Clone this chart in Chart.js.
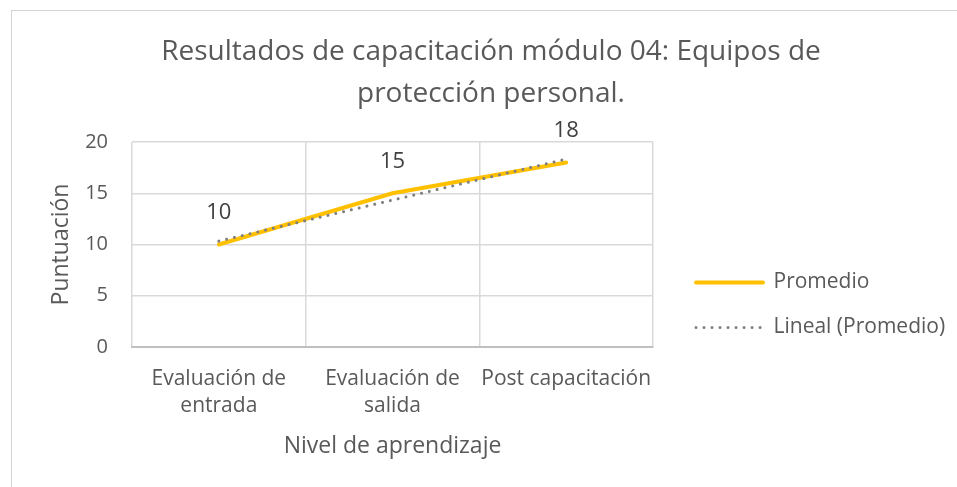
<!DOCTYPE html>
<html lang="es">
<head>
<meta charset="utf-8">
<title>Resultados de capacitación módulo 04</title>
<script src="https://cdn.jsdelivr.net/npm/chart.js@4.4.1/dist/chart.umd.min.js"></script>
<style>
  html, body { margin: 0; padding: 0; background: #ffffff; }
  #wrap { position: relative; width: 957px; height: 487px; overflow: hidden; }
  #frame {
    position: absolute; left: 11px; top: 10px; width: 1000px; height: 1000px;
    border-top: 1px solid #d4d4d4; border-left: 1px solid #d4d4d4;
  }
  #chart { position: absolute; left: 0; top: 0; }
</style>
</head>
<body>
<div id="wrap">
  <div id="frame"></div>
  <canvas id="chart" width="957" height="487"></canvas>
</div>
<script>
const CHART_TITLE = ["Resultados de capacitación módulo 04: Equipos de", "protección personal."];
const CATEGORIES = [["Evaluación de", "entrada"], ["Evaluación de", "salida"], "Post capacitación"];
const PROMEDIO = [10, 15, 18];
// trend line
const LINEAL_PROMEDIO = [10.33, 14.33, 18.33];
const Y_MIN = 0;
const Y_MAX = 20;
const Y_STEP = 5;

const FONT = "'Open Sans', 'Noto Sans', sans-serif";
const TEXT_COLOR = "#595959";
const GRID_COLOR = "#d9d9d9";
const TITLE_CENTER_X = 491; // middle of the outer frame, not of the plot

// value labels above the Promedio points
const valueLabels = {
  id: "valueLabels",
  afterDatasetsDraw(chart) {
    const meta = chart.getDatasetMeta(0);
    const ctx = chart.ctx;
    ctx.save();
    ctx.font = "22px " + FONT;
    ctx.fillStyle = "#404040";
    ctx.textAlign = "center";
    ctx.textBaseline = "middle";
    meta.data.forEach(function (pt, i) {
      ctx.fillText(String(PROMEDIO[i]), pt.x, pt.y - 32);
    });
    ctx.restore();
  },
};

// Excel puts the legend lower and a bit away from the plot,
// and centres the title on the whole frame
const boxPlacer = {
  id: "boxPlacer",
  afterLayout(chart) {
    const legend = chart.legend;
    if (legend) {
      legend.left = chart.chartArea.right + 19;
      legend.right = chart.width;
      legend.top = chart.chartArea.top + 106;
      legend.bottom = chart.height;
    }
    const title = chart.titleBlock;
    if (title) {
      const dx = TITLE_CENTER_X - (title.left + title.right) / 2;
      title.left += dx;
      title.right += dx;
    }
  },
};

// legend samples should use the dataset line style, not the point style
function legendLabels(chart) {
  const items = Chart.defaults.plugins.legend.labels.generateLabels(chart);
  items.forEach(function (item) {
    const ds = chart.data.datasets[item.datasetIndex];
    item.strokeStyle = ds.borderColor;
    item.lineWidth = ds.borderWidth;
    item.lineDash = ds.borderDash || [];
    item.lineCap = ds.borderCapStyle;
    item.pointStyle = "line";
  });
  return items.sort(function (a, b) {
    return a.datasetIndex - b.datasetIndex;
  });
}

new Chart(document.getElementById("chart"), {
  type: "line",
  data: {
    labels: CATEGORIES,
    datasets: [
      {
        label: "Promedio",
        data: PROMEDIO,
        borderColor: "#ffc000",
        backgroundColor: "#ffc000",
        borderWidth: 4,
        borderCapStyle: "round",
        pointRadius: 0,
        tension: 0,
        order: 1,
      },
      {
        label: "Lineal (Promedio)",
        data: LINEAL_PROMEDIO,
        borderColor: "#7f7f7f",
        backgroundColor: "#7f7f7f",
        borderWidth: 3,
        borderDash: [0.01, 8],
        borderCapStyle: "round",
        pointRadius: 0,
        tension: 0,
        order: 0,
      },
    ],
  },
  options: {
    responsive: false,
    animation: false,
    events: [],
    layout: {
      padding: { left: 25, right: 54, top: 0, bottom: 0 },
    },
    plugins: {
      tooltip: { enabled: false },
      title: {
        display: true,
        text: CHART_TITLE,
        color: TEXT_COLOR,
        font: { family: FONT, size: 28, weight: "normal", lineHeight: 1.5 },
        padding: { top: 31, bottom: 27 },
      },
      legend: {
        position: "right",
        align: "start",
        maxWidth: 250,
        labels: {
          color: TEXT_COLOR,
          font: { family: FONT, size: 21 },
          usePointStyle: true,
          pointStyle: "line",
          pointStyleWidth: 67,
          padding: 24,
          generateLabels: legendLabels,
        },
      },
    },
    scales: {
      x: {
        offset: true,
        grid: { offset: true, color: GRID_COLOR, lineWidth: 1.5, drawTicks: false },
        border: { color: "#bfbfbf", width: 2 },
        ticks: {
          color: TEXT_COLOR,
          font: { family: FONT, size: 21, lineHeight: 1.3 },
          padding: 18,
          maxRotation: 0,
          autoSkip: false,
        },
        title: {
          display: true,
          text: "Nivel de aprendizaje",
          color: TEXT_COLOR,
          font: { family: FONT, size: 23, lineHeight: 1.2 },
          padding: { top: 0, bottom: 27 },
        },
        afterFit: function (scale) {
          scale.height = 140;
        },
      },
      y: {
        min: Y_MIN,
        max: Y_MAX,
        grid: { color: GRID_COLOR, lineWidth: 1.5, drawTicks: false },
        border: { display: false },
        ticks: {
          stepSize: Y_STEP,
          color: TEXT_COLOR,
          font: { family: FONT, size: 20 },
          padding: 24,
        },
        title: {
          display: true,
          text: "Puntuación",
          color: TEXT_COLOR,
          font: { family: FONT, size: 23, lineHeight: 1.2 },
          padding: { top: 23, bottom: 0 },
        },
        afterFit: function (scale) {
          scale.width = 107;
        },
      },
    },
  },
  plugins: [valueLabels, boxPlacer],
});
</script>
</body>
</html>
